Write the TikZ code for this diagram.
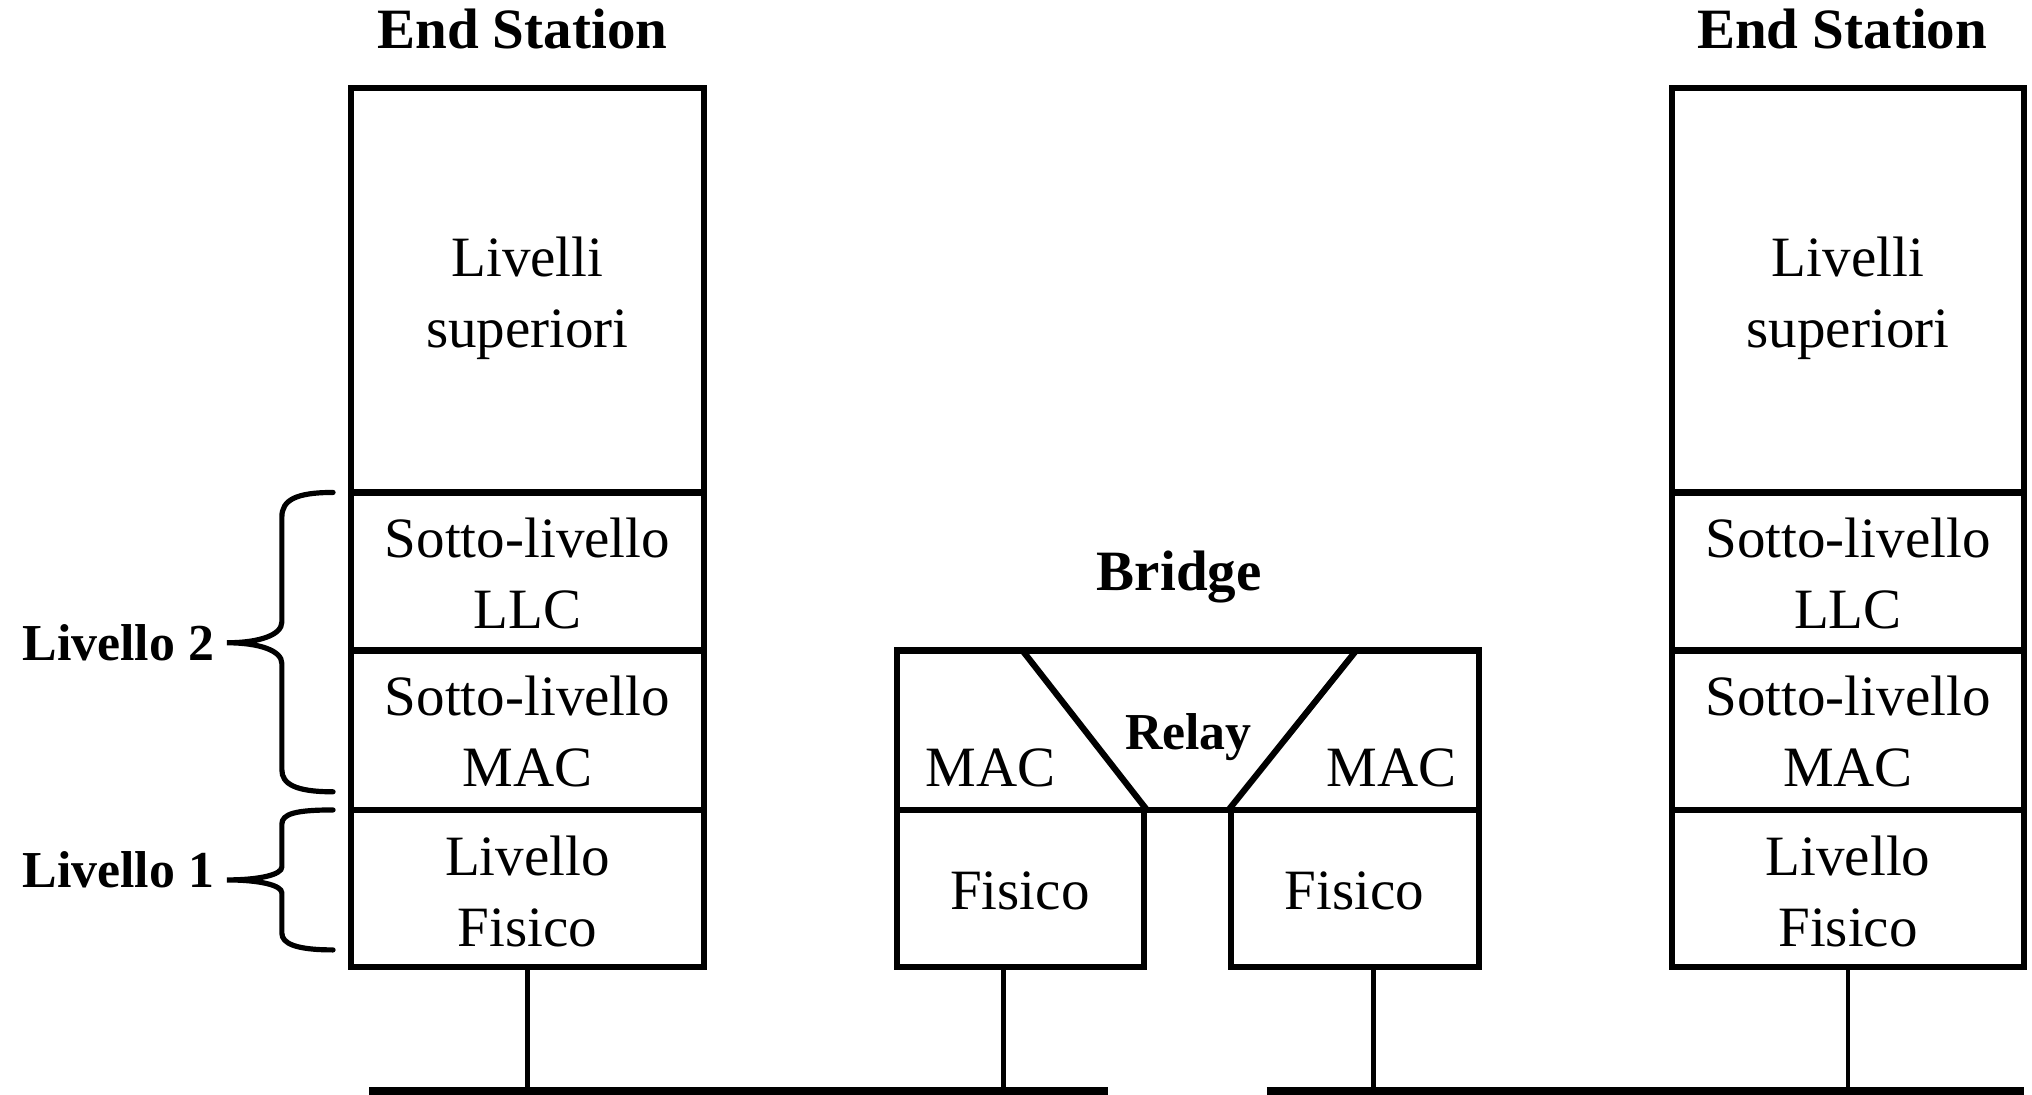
\documentclass[tikz,border=0pt]{standalone}
\usepackage{fontspec}
\setmainfont{Liberation Serif}
\begin{document}
\begin{tikzpicture}[x=0.5pt,y=-0.5pt,
  box/.style={draw,line width=2.4pt,inner sep=0pt},
  txt/.style={font=\fontsize{22}{27.3}\selectfont,inner sep=0pt,align=center,anchor=base},
  btitle/.style={font=\bfseries\fontsize{22}{26}\selectfont,inner sep=0pt,anchor=base},
  blabel/.style={font=\bfseries\fontsize{20}{24}\selectfont,inner sep=0pt},
  conn/.style={line width=1.9pt},
  bus/.style={line width=8pt},
  brace/.style={line width=2pt,line cap=round}]
\useasboundingbox (0,0) rectangle (1568,844.2);

% bus coordinates
\coordinate (b1s) at (285,847);
\coordinate (b1e) at (855,847);
\coordinate (b2s) at (977.5,847);
\coordinate (b2e) at (1562,847);

% left end station
\node[box,minimum width=136pt,minimum height=156pt] (lsup) at (407,224) {};
\node[box,minimum width=136pt,minimum height=61pt] (lllc) at (407,441) {};
\node[box,minimum width=136pt,minimum height=61.5pt] (lmac) at (407,563.5) {};
\node[box,minimum width=136pt,minimum height=60.5pt] (lfis) at (407,685.5) {};

% right end station
\node[box,minimum width=136pt,minimum height=156pt] (rsup) at (1426,224) {};
\node[box,minimum width=136pt,minimum height=61pt] (rllc) at (1426,441) {};
\node[box,minimum width=136pt,minimum height=61.5pt] (rmac) at (1426,563.5) {};
\node[box,minimum width=136pt,minimum height=60.5pt] (rfis) at (1426,685.5) {};

% bridge
\node[box,minimum width=224.5pt,minimum height=61.5pt] (bmac) at (916.5,563.5) {};
\node[box,minimum width=95.5pt,minimum height=60.5pt] (bfisl) at (787.5,685.5) {};
\node[box,minimum width=95.5pt,minimum height=60.5pt] (bfisr) at (1045.5,685.5) {};
\draw[line width=2.4pt] (789,502) -- (885,625);
\draw[line width=2.4pt] (1046.5,502) -- (948,625);

% texts
\node[btitle] (t1) at (403,37.7) {End Station};
\node[btitle] (t2) at (1421.5,37.7) {End Station};
\node[btitle] (t3) at (910,456) {Bridge};
\node[blabel,anchor=base] (relay) at (917,578) {Relay};

\node[txt] (x1) at (407,268) {Livelli\\superiori};
\node[txt] (x2) at (407,485) {Sotto-livello\\LLC};
\node[txt] (x3) at (407,607) {Sotto-livello\\MAC};
\node[txt] (x4) at (407,730) {Livello\\Fisico};
\node[txt] (y1) at (1426,268) {Livelli\\superiori};
\node[txt] (y2) at (1426,485) {Sotto-livello\\LLC};
\node[txt] (y3) at (1426,607) {Sotto-livello\\MAC};
\node[txt] (y4) at (1426,730) {Livello\\Fisico};
\node[txt] (m1) at (764.5,607) {MAC};
\node[txt] (m2) at (1074,607) {MAC};
\node[txt] (f1) at (787,702) {Fisico};
\node[txt] (f2) at (1045,702) {Fisico};

\node[blabel,anchor=base west] (liv2) at (17,510) {Livello 2};
\node[blabel,anchor=base west] (liv1) at (17,685) {Livello 1};

% braces
\draw[brace] (257,380) .. controls (228,380) and (217.5,386) .. (217.5,399)
  -- (217.5,480) .. controls (217.5,490) and (200,496) .. (175,496)
  .. controls (200,496) and (217.5,502) .. (217.5,512)
  -- (217.5,594) .. controls (217.5,605) and (228,611) .. (257,611);
\draw[brace] (257,625) .. controls (228,625) and (217.5,628) .. (217.5,636)
  -- (217.5,669) .. controls (217.5,675) and (200,679) .. (175,679)
  .. controls (200,679) and (217.5,683) .. (217.5,689)
  -- (217.5,720) .. controls (217.5,728) and (228,733) .. (257,733);

% connectors
\coordinate (vbl) at (774,746);
\coordinate (vbr) at (1059.6,746);
\draw[conn] (lfis.south) -- (lfis.south |- b1s);
\draw[conn] (vbl) -- (vbl |- b1s);
\draw[conn] (vbr) -- (vbr |- b2s);
\draw[conn] (rfis.south) -- (rfis.south |- b2s);
\draw[bus] (b1s) -- (b1e);
\draw[bus] (b2s) -- (b2e);
\end{tikzpicture}
\end{document}
